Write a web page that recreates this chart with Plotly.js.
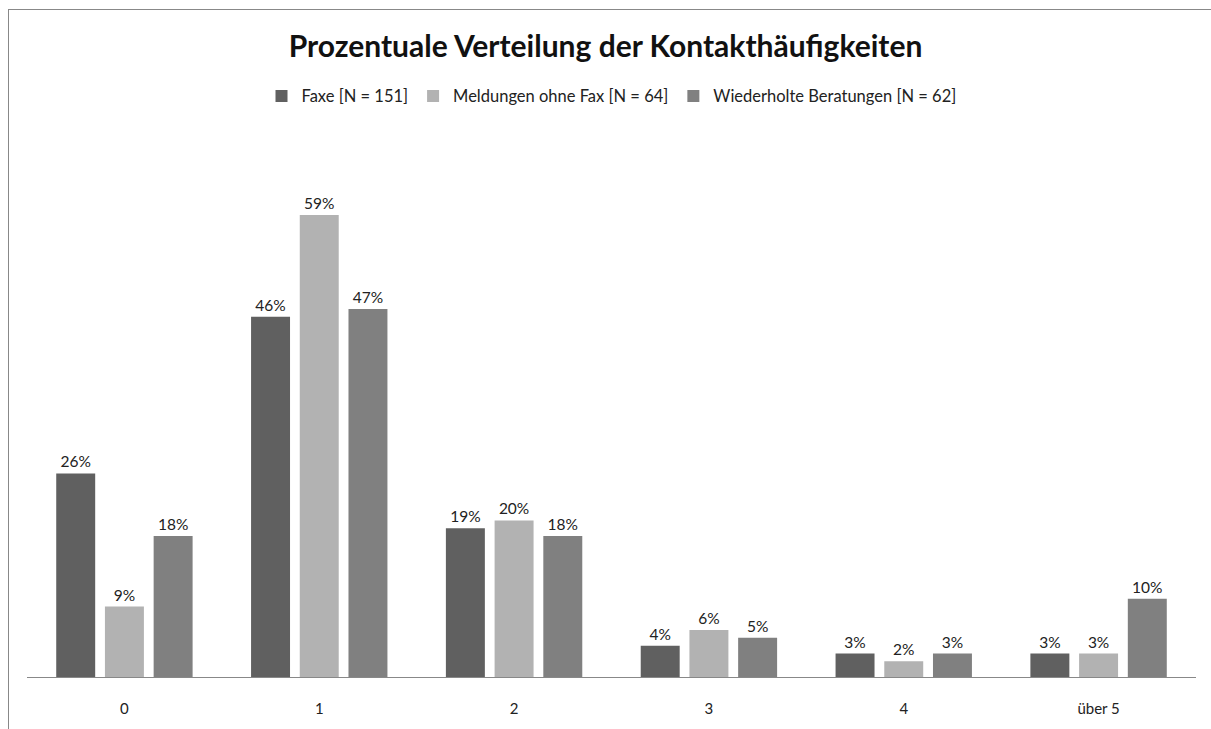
<!DOCTYPE html>
<html>
<head>
<meta charset="utf-8">
<script src="https://cdn.plot.ly/plotly-3.0.1.min.js"></script>
<style>
body{margin:0;background:#fff;}
#wrap{position:relative;width:1211px;height:729px;}
#chart{position:absolute;left:0;top:0;width:1211px;height:729px;}
#frame{position:absolute;left:8px;top:9px;width:1220px;height:740px;border-left:1px solid #888;border-top:1px solid #888;pointer-events:none;}
</style>
</head>
<body>
<div id="wrap"><div id="chart"></div><div id="frame"></div></div>
<script>
const categories = ["0", "1", "2", "3", "4", "über 5"];
const seriesNames = ["Faxe [N = 151]", "Meldungen ohne Fax [N = 64]", "Wiederholte Beratungen [N = 62]"];
const faxe = [26, 46, 19, 4, 3, 3];
const meldungen = [9, 59, 20, 6, 2, 3];
const wiederholte = [18, 47, 18, 5, 3, 10];
const colors = ["#606060", "#b2b2b2", "#808080"];

const FONT = "Lato, 'Open Sans', sans-serif";
const values = [faxe, meldungen, wiederholte];
const traces = values.map((v, i) => ({
  type: "bar",
  name: seriesNames[i],
  x: categories,
  y: v,
  marker: {color: colors[i]},
  text: v.map(d => d + "%"),
  textposition: "outside",
  cliponaxis: false,
  textfont: {family: FONT, size: 15.5, color: "#222"},
  hoverinfo: "skip"
}));

const layout = {
  width: 1211, height: 729,
  margin: {l: 27, r: 15, t: 150, b: 52},
  paper_bgcolor: "rgba(0,0,0,0)",
  plot_bgcolor: "rgba(0,0,0,0)",
  font: {family: FONT, color: "#222"},
  title: {
    text: "<b>Prozentuale Verteilung der Kontakthäufigkeiten</b>",
    x: 0.5, xanchor: "center", xref: "container",
    y: 1 - 46 / 729, yref: "container", yanchor: "middle",
    font: {family: FONT, size: 30, color: "#111"}
  },
  barmode: "group",
  bargap: 0.25,
  bargroupgap: 0.2,
  showlegend: true,
  legend: {
    orientation: "h",
    x: 0.5, xanchor: "center",
    y: 1.102, yanchor: "middle",
    font: {size: 16.5, color: "#222"},
    itemwidth: 30,
    traceorder: "normal"
  },
  xaxis: {
    type: "category",
    showline: true, linecolor: "#888", linewidth: 1,
    ticks: "", showgrid: false, zeroline: false,
    tickfont: {size: 15, color: "#222"},
    ticklabelstandoff: 18
  },
  yaxis: {
    range: [0, 67.3],
    visible: false,
    showgrid: false, zeroline: false
  }
};
Plotly.newPlot("chart", traces, layout, {displayModeBar: false, staticPlot: true});
</script>
</body>
</html>
